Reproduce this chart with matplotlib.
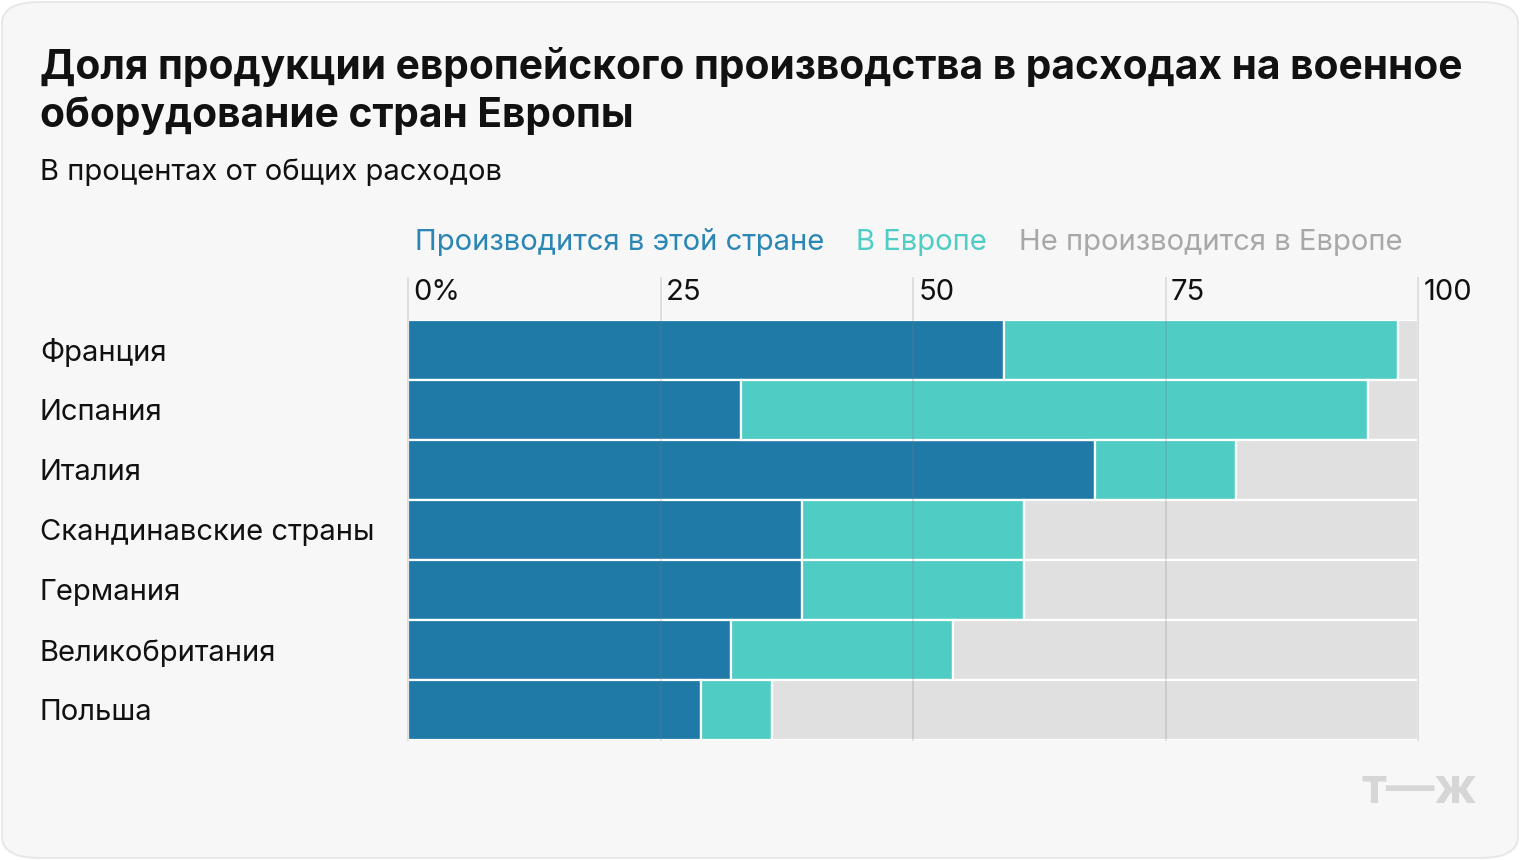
import matplotlib
matplotlib.use("Agg")
import matplotlib.pyplot as plt
from matplotlib.patches import FancyBboxPatch
import matplotlib.transforms as mtransforms

plt.rcParams['font.family'] = ['Inter', 'DejaVu Sans']

categories = ["Франция", "Испания", "Италия", "Скандинавские страны",
              "Германия", "Великобритания", "Польша"]
domestic = [59, 33, 68, 39, 39, 32, 29]
europe = [39, 62, 14, 22, 22, 22, 7]
non_europe = [2, 5, 18, 39, 39, 46, 64]
series_names = ["Производится в этой стране", "В Европе", "Не производится в Европе"]
tick_values = [0, 25, 50, 75, 100]
tick_labels = ["0%", "25", "50", "75", "100"]

title = "Доля продукции европейского производства в расходах на военное\nоборудование стран Европы"
subtitle = "В процентах от общих расходов"

c_dom = "#1f7aa8"
c_eu = "#4fcdc4"
c_non = "#e0e0e0"
legend_colors = ["#2a86b4", "#4fcdc4", "#a8a8a8"]
bg = "#f7f7f7"

W, H = 1520, 860
fig = plt.figure(figsize=(W / 100, H / 100), dpi=100)
fig.patch.set_facecolor("white")
frame = FancyBboxPatch((2 / W, 2 / H), (W - 4) / W, (H - 4) / H,
                       boxstyle="round,pad=0,rounding_size=0.025",
                       transform=fig.transFigure, facecolor=bg,
                       edgecolor="#e8e8e8", linewidth=1.5, zorder=-10)
fig.patches.append(frame)

x0, x1 = 408, 1418
ytop, ybot = 320, 740
ax = fig.add_axes([x0 / W, (H - ybot) / H, (x1 - x0) / W, (ybot - ytop) / H])
ax.set_facecolor(bg)
ax.patch.set_alpha(0)
for s in ax.spines.values():
    s.set_visible(False)

y = list(range(len(categories)))
left2 = [d for d in domestic]
left3 = [d + e for d, e in zip(domestic, europe)]
kw = dict(height=1.0, edgecolor="white", linewidth=1.6, zorder=2)
ax.barh(y, domestic, color=c_dom, **kw)
ax.barh(y, europe, left=left2, color=c_eu, **kw)
ax.barh(y, non_europe, left=left3, color=c_non, **kw)
ax.set_xlim(0, 100)
ax.set_ylim(len(categories) - 0.5, -0.5)
ax.set_xticks([])
ax.set_yticks([])

FS = 21
# gridlines over bars
grid_top = (ybot - 278) / (ybot - ytop)
for v, lab in zip(tick_values, tick_labels):
    ax.plot([v, v], [0, grid_top], transform=ax.get_xaxis_transform(),
            color="#7a7a7a", alpha=0.22, linewidth=1.3, zorder=5, clip_on=False)
    ax.annotate(lab, xy=(v, (ybot - 292) / (ybot - ytop)),
                xycoords=ax.get_xaxis_transform(), xytext=(4, 0),
                textcoords="offset points", ha="left", va="center",
                fontsize=FS, color="#111111")

# category labels
tr = mtransforms.blended_transform_factory(fig.transFigure, ax.transData)
for yi, cat in zip(y, categories):
    ax.annotate(cat, xy=(40 / W, yi), xycoords=tr, xytext=(0, -2),
                textcoords="offset points", ha="left", va="center",
                fontsize=FS, color="#111111", annotation_clip=False)

# title and subtitle
fig.text(40 / W, 1 - 91 / H, title, ha="left", va="center", fontsize=29.3,
         fontweight="bold", color="#111111", linespacing=1.3)
fig.text(40 / W, 1 - 172 / H, subtitle, ha="left", va="center", fontsize=FS,
         color="#111111")

# legend texts
t = fig.text(415 / W, 1 - 242 / H, series_names[0], ha="left", va="center",
             fontsize=FS, color=legend_colors[0])
for name, col in zip(series_names[1:], legend_colors[1:]):
    t = ax.annotate(name, xy=(1, 0.5), xycoords=t, xytext=(23, 0),
                    textcoords="offset points", ha="left", va="center",
                    fontsize=FS, color=col, annotation_clip=False)

# logo
fig.text(1419 / W, 1 - 790 / H, "т—ж", ha="center", va="center", fontsize=35,
         fontweight="bold", color="#d6d6d6")

fig.savefig("out.png", dpi=100, facecolor=fig.get_facecolor())
